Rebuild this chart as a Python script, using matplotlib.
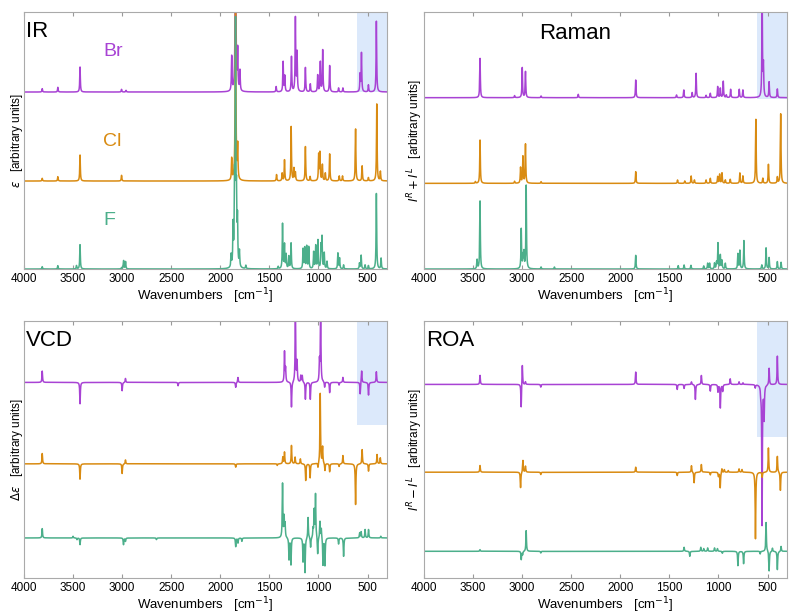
import matplotlib
matplotlib.use("Agg")
import matplotlib.pyplot as plt
import numpy as np

plt.rcParams['font.family'] = ['Liberation Sans', 'DejaVu Sans']

# ---- peak lists: (wavenumber, height) ----
# heights are in the same arbitrary units as the per-panel offsets below

ir_br_pos = [3814, 3655, 3429, 3006, 2960, 1884, 1845, 1823, 1800, 1431, 1360, 1343, 1275,
             1235, 1218, 1133, 1083, 1008, 981, 957, 886, 795, 751, 576, 562, 491, 410]
ir_br_int = [0.10, 0.14, 0.75, 0.08, 0.05, 1.04, 8.0, 1.19, 0.61, 0.16, 0.90, 0.47, 1.05,
             2.21, 1.16, 0.73, 0.24, 0.50, 0.89, 1.25, 0.79, 0.12, 0.12, 0.51, 1.16, 0.21, 2.13]

ir_cl_pos = [3814, 3655, 3429, 3006, 1884, 1845, 1823, 1427, 1370, 1346, 1278, 1250, 1235,
             1133, 1085, 998, 985, 960, 930, 886, 788, 755, 622, 555, 491, 406, 369]
ir_cl_int = [0.08, 0.13, 0.78, 0.17, 0.65, 8.0, 1.0, 0.19, 0.23, 0.63, 1.63, 0.37, 0.25,
             1.03, 0.13, 0.78, 0.83, 0.48, 0.23, 0.81, 0.15, 0.15, 1.56, 0.45, 0.10, 2.31, 0.28]

ir_f_pos = [3814, 3655, 3465, 3429, 3005, 2985, 2965, 1890, 1870, 1855, 1845, 1835, 1825,
            1805, 1740, 1410, 1366, 1346, 1329, 1302, 1279, 1157, 1140, 1120, 1099, 1049,
            1028, 1005, 974, 964, 941, 913, 802, 785, 744, 582, 565, 525, 491, 410, 362]
ir_f_int = [0.07, 0.10, 0.10, 0.73, 0.04, 0.25, 0.22, 0.37, 1.2, 2.2, 7.08, 1.8, 1.3,
            0.47, 0.10, 0.07, 1.35, 0.72, 0.42, 0.37, 0.77, 0.59, 0.62, 0.67, 0.65, 0.50,
            0.69, 0.85, 0.67, 0.92, 0.47, 0.22, 0.47, 0.32, 0.12, 0.17, 0.41, 0.12, 0.10, 2.27, 0.32]

raman_br_pos = [3429, 3077, 2999, 2966, 2807, 2428, 1843, 1427, 1353, 1268, 1228, 1126,
                1083, 1008, 981, 951, 920, 876, 788, 751, 555, 542, 484, 400]
raman_br_int = [1.18, 0.06, 0.90, 0.78, 0.05, 0.10, 0.53, 0.08, 0.23, 0.15, 0.73, 0.07,
                0.13, 0.33, 0.28, 0.49, 0.08, 0.25, 0.25, 0.23, 3.0, 0.93, 0.47, 0.26]

raman_cl_pos = [3476, 3429, 3077, 3016, 2992, 2966, 2807, 1843, 1417, 1343, 1278, 1245,
                1126, 1083, 1008, 988, 964, 930, 880, 782, 751, 619, 548, 491, 400, 366]
raman_cl_int = [0.05, 1.30, 0.06, 0.47, 0.80, 1.17, 0.05, 0.35, 0.10, 0.07, 0.22, 0.10,
                0.10, 0.15, 0.20, 0.27, 0.31, 0.10, 0.12, 0.31, 0.22, 1.92, 0.15, 0.57, 0.18, 2.09]

raman_f_pos = [3459, 3429, 3009, 2992, 2982, 2959, 2807, 2671, 1843, 1410, 1350, 1280,
               1150, 1110, 1090, 1040, 1020, 1005, 981, 964, 930, 802, 782, 741, 558,
               515, 484, 400, 362]
raman_f_int = [0.27, 2.04, 1.19, 0.37, 0.47, 2.50, 0.06, 0.06, 0.41, 0.10, 0.12, 0.11,
               0.09, 0.17, 0.17, 0.17, 0.19, 0.77, 0.41, 0.25, 0.17, 0.45, 0.55, 0.85, 0.12,
               0.63, 0.34, 0.22, 0.20]

vcd_br_pos = [3814, 3429, 3000, 2966, 2430, 1843, 1820, 1346, 1335, 1275, 1235, 1218,
              1180, 1165, 1133, 1083, 990, 978, 937, 886, 790, 751, 575, 560, 490, 410]
vcd_br_int = [0.34, -0.64, -0.25, 0.12, -0.10, -0.15, 0.15, 0.91, 0.40, -0.76, 2.3, 0.60,
              0.20, 0.20, -0.51, -0.51, 0.60, 2.3, -0.16, -0.31, -0.08, 0.15, -0.36, 0.36, -0.38, 0.32]

vcd_cl_pos = [3814, 3429, 3000, 2966, 1843, 1420, 1363, 1346, 1275, 1238, 1184, 1130,
              1085, 1005, 982, 958, 934, 886, 790, 751, 622, 555, 490, 403, 370]
vcd_cl_int = [0.31, -0.46, -0.29, 0.12, -0.10, -0.05, 0.20, 0.35, 0.55, 0.20, 0.15, -0.50,
              -0.42, -0.15, 2.11, 0.50, -0.22, -0.24, -0.08, 0.25, -1.22, 0.43, -0.22, 0.28, 0.18]

vcd_f_pos = [3814, 3500, 3460, 3429, 2986, 2966, 2650, 1843, 1820, 1780, 1366, 1350, 1340,
             1300, 1280, 1157, 1137, 1106, 1080, 1055, 1044, 1030, 1008, 985, 971, 954, 934,
             795, 744, 580, 565, 525, 490, 365]
vcd_f_int = [0.28, 0.05, -0.05, -0.20, -0.20, -0.10, -0.05, -0.26, -0.15, -0.10, 1.62, 0.60,
             0.40, -0.65, -0.80, -0.70, -1.03, 0.63, -0.30, 0.25, 0.80, 1.30, -0.52, 0.50, 0.30,
             -0.82, -0.82, -0.18, -0.55, 0.15, 0.18, 0.25, 0.25, 0.05]

roa_br_pos = [3429, 3010, 2998, 2966, 2810, 1843, 1420, 1350, 1275, 1235, 1174, 1083,
              1005, 981, 957, 880, 790, 750, 625, 569, 556, 535, 484, 400]
roa_br_int = [0.27, -0.72, 0.62, 0.08, -0.08, 0.37, -0.15, -0.12, 0.08, -0.45, 0.27, -0.20,
              -0.22, -0.70, -0.20, 0.17, 0.08, 0.05, -0.10, -0.20, -4.20, -1.0, 0.50, 0.85]

roa_cl_pos = [3429, 3016, 2992, 2966, 2810, 1843, 1420, 1275, 1248, 1174, 1083, 1000,
              982, 965, 940, 900, 790, 760, 623, 555, 491, 400, 369]
roa_cl_int = [0.20, -0.47, 0.36, 0.18, -0.07, 0.15, -0.10, 0.20, -0.32, 0.23, -0.08, -0.12,
              -0.47, 0.12, 0.08, 0.05, 0.10, 0.08, -2.0, -0.15, 0.73, 0.48, -0.55]

roa_f_pos = [3429, 3009, 2995, 2959, 2810, 1350, 1292, 1180, 1150, 1110, 1040, 1010,
             960, 802, 744, 575, 515, 484, 450, 400, 362]
roa_f_int = [0.05, -0.25, -0.10, 0.62, -0.05, 0.12, -0.15, 0.12, 0.08, 0.10, 0.10, 0.08,
             -0.06, -0.43, -0.37, -0.08, 0.87, -0.60, 0.10, -0.55, 0.15]

labels = ["Br", "Cl", "F"]
colors = ["#a843d4", "#d98b12", "#4caf8b"]
tick_vals = [4000, 3500, 3000, 2500, 2000, 1500, 1000, 500]

# per panel: title, ylabel, peaks (Br, Cl, F), offsets (Br, Cl, F), ylim, shade bottom
panels = [
    ("IR", r"$\epsilon$   [arbitrary units]",
     [(ir_br_pos, ir_br_int), (ir_cl_pos, ir_cl_int), (ir_f_pos, ir_f_int)],
     [5.31, 2.64, 0.0], (0.0, 7.71), 0.689),
    ("Raman", r"$I^R + I^L$   [arbitrary units]",
     [(raman_br_pos, raman_br_int), (raman_cl_pos, raman_cl_int), (raman_f_pos, raman_f_int)],
     [5.14, 2.57, 0.0], (0.0, 7.71), 0.663),
    ("VCD", r"$\Delta\epsilon$   [arbitrary units]",
     [(vcd_br_pos, vcd_br_int), (vcd_cl_pos, vcd_cl_int), (vcd_f_pos, vcd_f_int)],
     [4.66, 2.22, 0.0], (-1.20, 6.50), 0.597),
    ("ROA", r"$I^R - I^L$   [arbitrary units]",
     [(roa_br_pos, roa_br_int), (roa_cl_pos, roa_cl_int), (roa_f_pos, roa_f_int)],
     [5.00, 2.37, 0.0], (-0.80, 6.90), 0.548),
]

x = np.linspace(300, 4000, 9000)
gamma = 3.5


def spectrum(pos, inten):
    y = np.zeros_like(x)
    for p, h in zip(pos, inten):
        y += h * gamma**2 / ((x - p)**2 + gamma**2)
    return y


fig = plt.figure(figsize=(8, 6.16), dpi=100)
rects = [[0.03, 0.5633, 0.454, 0.4172], [0.53, 0.5633, 0.454, 0.4172],
         [0.03, 0.0617, 0.454, 0.4172], [0.53, 0.0617, 0.454, 0.4172]]

for i, (title, ylab, peaks, offs, ylim, shade) in enumerate(panels):
    ax = fig.add_axes(rects[i])
    ax.axvspan(610, 300, ymin=shade, ymax=1, color="#dce9fb", lw=0, zorder=0)
    for (pos, inten), off, c in zip(peaks, offs, colors):
        ax.plot(x, spectrum(pos, inten) + off, color=c, lw=1.1, zorder=2)
    ax.set_xlim(4000, 300)
    ax.set_ylim(*ylim)
    ax.set_yticks([])
    ax.set_xticks(tick_vals)
    ax.tick_params(axis="x", direction="in", top=True, length=3, labelsize=8.5,
                   color="#999999", pad=3)
    for s in ax.spines.values():
        s.set_color("#aaaaaa")
        s.set_linewidth(0.8)
    ax.set_xlabel(r"Wavenumbers   [cm$^{-1}$]", fontsize=9.5, labelpad=1)
    ax.set_ylabel(ylab, fontsize=8.5, labelpad=-1)
    if title == "Raman":
        ax.text(0.317, 0.918, title, transform=ax.transAxes, fontsize=16, va="center")
    else:
        ax.text(0.005, 0.925, title, transform=ax.transAxes, fontsize=16, va="center")
    if title == "IR":
        for lab, c, yy in zip(labels, colors, [0.848, 0.498, 0.187]):
            ax.text(0.218, yy, lab, transform=ax.transAxes, fontsize=14, color=c,
                    va="center")

fig.savefig("out.png", dpi=100)
